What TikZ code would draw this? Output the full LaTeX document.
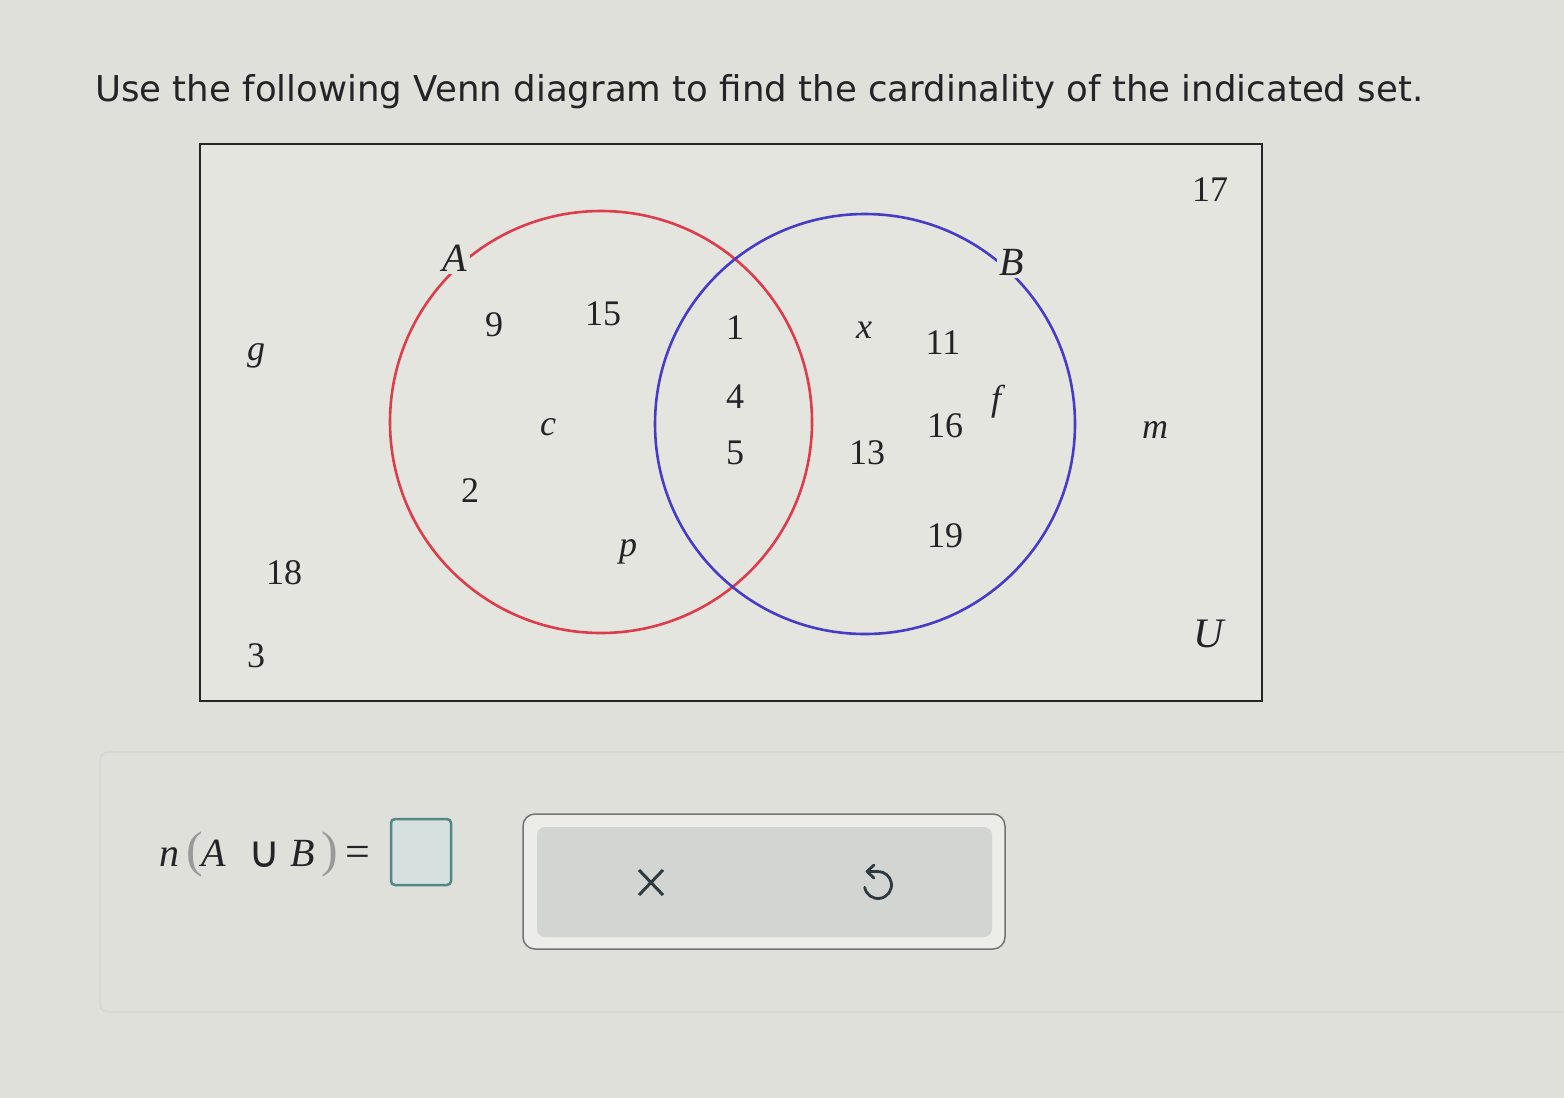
\documentclass[tikz,border=0pt]{standalone}
\usepackage{fontspec}
\setmainfont{Liberation Serif}
\newfontfamily\titlefont{DejaVu Sans}
\usetikzlibrary{arrows.meta}
\definecolor{bgc}{RGB}{224,224,219}
\definecolor{inbg}{RGB}{229,229,224}
\definecolor{redc}{RGB}{222,60,75}
\definecolor{bluec}{RGB}{70,60,200}
\definecolor{txt}{RGB}{35,35,40}
\definecolor{btn}{RGB}{211,213,211}
\definecolor{teal}{RGB}{80,135,135}
\definecolor{boxfill}{RGB}{214,224,222}
\definecolor{icon}{RGB}{45,58,64}
\tikzset{
  lab/.style={font=\fontsize{36}{40}\selectfont, text=txt, inner sep=0pt},
  ilab/.style={lab, font=\fontsize{36}{40}\selectfont\itshape},
  setlab/.style={font=\fontsize{40}{44}\selectfont\itshape, text=txt, fill=inbg, inner sep=3pt},
  expr/.style={anchor=base west, inner sep=0pt, text=txt, font=\fontsize{40}{44}\selectfont},
  paren/.style={expr, text=black!40, font=\fontsize{50}{54}\selectfont},
}
\begin{document}
\begin{tikzpicture}[x=1pt,y=-1pt]
\fill[bgc] (0,0) rectangle (1564,1098);
\useasboundingbox (0,0) rectangle (1564,1098);
% title
\node[anchor=base west, inner sep=0pt, text=txt] (title) at (95,101)
  {\resizebox{1328pt}{!}{\titlefont\fontsize{36}{40}\selectfont Use the following Venn diagram to find the cardinality of the indicated set.}};
% universe
\draw[line width=2.8pt, black!85, fill=inbg] (200,144) rectangle (1262,701);
% circles
\draw[redc, line width=2.6pt] (601,422) circle[radius=211];
\draw[bluec, line width=2.6pt] (865,424) circle[radius=210];
\node[setlab] (A) at (455,258) {A};
\node[setlab] (B) at (1012,262) {B};
\node[ilab, font=\fontsize{42}{44}\selectfont\itshape] (U) at (1209,634) {U};
% labels
\node[lab] (n17) at (1210,190) {17};
\node[lab] (n9) at (494,325) {9};
\node[lab] (n15) at (603,314) {15};
\node[lab] (n1) at (735,328) {1};
\node[ilab] (x) at (864,330) {x};
\node[lab] (n11) at (943,343) {11};
\node[ilab] (g) at (256,356) {g};
\node[lab] (n4) at (735,397) {4};
\node[ilab] (f) at (996,402) {f};
\node[ilab] (c) at (548,427) {c};
\node[lab] (n16) at (945,426) {16};
\node[ilab] (m) at (1155,430) {m};
\node[lab] (n5) at (735,453) {5};
\node[lab] (n13) at (867,453) {13};
\node[lab] (n2) at (470,491) {2};
\node[lab] (n19) at (945,536) {19};
\node[ilab] (p) at (628,552) {p};
\node[lab] (n18) at (284,573) {18};
\node[lab] (n3) at (256,656) {3};
% answer panel
\draw[line width=1.5pt, black!16, rounded corners=8pt] (100,752) rectangle (1600,1012);
\node[expr, font=\fontsize{40}{44}\selectfont\itshape] (en) at (159,866) {n};
\node[paren] (el) at (186,866) {(};
\node[expr, font=\fontsize{40}{44}\selectfont\itshape] (eA) at (201,866) {A};
\node[expr, font=\titlefont\fontsize{44}{48}\selectfont] (ecup) at (248,867) {∪};
\node[expr, font=\fontsize{40}{44}\selectfont\itshape] (eB) at (290,866) {B};
\node[paren] (er) at (321,866) {)};
\node[expr, font=\fontsize{44}{46}\selectfont] (eq) at (345,866) {=};
\draw[teal, line width=2.5pt, fill=boxfill, rounded corners=4pt] (391,819) rectangle (451,885);
\node (box) at (421,852) {};
\draw[black!55, line width=1.5pt, fill=bgc!60!white, rounded corners=12pt] (523,814) rectangle (1005,949);
\fill[btn, rounded corners=8pt] (537,827) rectangle (992,937);
\node (btnx) at (651,882) {};
\draw[icon, line width=3pt] (639,870) -- (663,895) (663,870) -- (639,895);
\node (undo) at (878,885) {};
\draw[icon, line width=2.8pt, line cap=round, line join=round]
  (878,885) ++(-190:13.5) arc (-190:-450:13.5) -- (868,871.5);
\draw[icon, line width=2.8pt, line cap=round, line join=round]
  (874,865) -- (867,871.5) -- (874,878);
\end{tikzpicture}
\end{document}
